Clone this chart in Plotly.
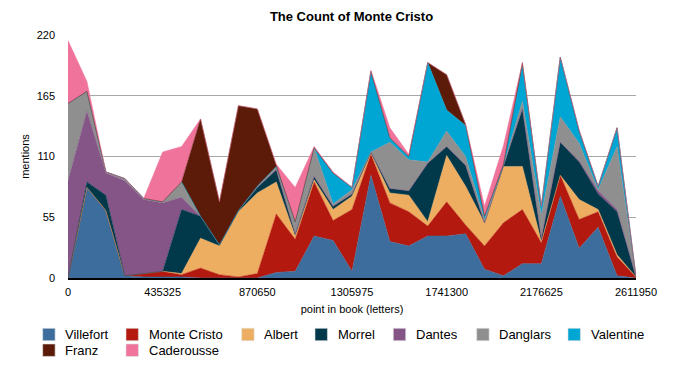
import plotly.graph_objects as go

# ---------------- data ----------------
positions = [0, 87065, 174130, 261195, 348260, 435325, 522390, 609455, 696520,
             783585, 870650, 957715, 1044780, 1131845, 1218910, 1305975, 1393040,
             1480105, 1567170, 1654235, 1741300, 1828365, 1915430, 2002495,
             2089560, 2176625, 2263690, 2350755, 2437820, 2524885, 2611950]

villefort = [0, 82, 61, 2, 1, 1, 1, 0, 0, 0, 0, 5, 6, 38, 34, 6, 93, 33, 29, 38, 38,
             40, 8, 2, 13, 13, 74, 27, 46, 2, 0]
monte_cristo = [0, 0, 0, 0, 3, 5, 2, 9, 3, 1, 4, 53, 29, 49, 18, 56, 19, 35, 31, 9, 31,
                8, 21, 48, 49, 19, 19, 26, 14, 17, 1]
albert = [0, 0, 0, 0, 0, 0, 1, 27, 26, 59, 73, 29, 3, 2, 10, 12, 1, 9, 15, 4, 42,
          35, 21, 51, 39, 1, 0, 18, 2, 2, 0]
morrel = [0, 5, 14, 0, 0, 0, 58, 20, 1, 1, 5, 11, 2, 3, 3, 2, 1, 4, 4, 53, 8,
          19, 0, 0, 52, 3, 30, 34, 14, 39, 0]
dantes = [88, 64, 20, 86, 67, 62, 11, 0, 0, 0, 0, 0, 0, 0, 0, 0, 0, 0, 0, 0, 0,
          0, 0, 0, 0, 0, 0, 1, 3, 2, 0]
danglars = [70, 18, 1, 2, 1, 1, 14, 0, 0, 0, 1, 3, 11, 26, 2, 4, 0, 42, 28, 1, 14,
            8, 3, 1, 7, 21, 23, 16, 1, 57, 0]
valentine = [0, 0, 0, 0, 0, 0, 0, 0, 0, 0, 0, 0, 0, 0, 28, 2, 73, 4, 3, 90, 19,
             28, 3, 1, 32, 8, 54, 11, 3, 17, 0]
franz = [0, 0, 0, 0, 0, 0, 0, 88, 39, 95, 70, 0, 0, 0, 0, 0, 0, 0, 0, 0, 32,
         1, 0, 0, 3, 0, 0, 0, 0, 0, 0]
caderousse = [57, 9, 0, 0, 0, 45, 32, 0, 0, 0, 0, 2, 31, 1, 1, 0, 1, 9, 2, 0, 0,
              0, 9, 17, 0, 0, 0, 1, 0, 0, 0]

names = ["Villefort", "Monte Cristo", "Albert", "Morrel", "Dantes", "Danglars",
         "Valentine", "Franz", "Caderousse"]
series = [villefort, monte_cristo, albert, morrel, dantes, danglars,
          valentine, franz, caderousse]

x_tick_values = [0, 435325, 870650, 1305975, 1741300, 2176625, 2611950]
y_tick_values = [0, 55, 110, 165, 220]

# ---------------- styling ----------------
colors = ["#3C6D9D", "#B4190F", "#EEAE61", "#01384A", "#855588", "#8F8F8F",
          "#00A6D3", "#5B1B08", "#EF739B"]
FONT = "Liberation Sans, Arial, Helvetica, sans-serif"

W, H = 676, 374
ML, MR, MT, MB = 68, 40, 35, 96
PW, PH = W - ML - MR, H - MT - MB

fig = go.Figure()
for name, vals, col in zip(names, series, colors):
    fig.add_trace(go.Scatter(
        x=positions, y=vals, name=name, mode="lines",
        stackgroup="one", line=dict(width=0.5, color=col),
        fillcolor=col, showlegend=False, hoverinfo="x+y+name"))

# custom legend (squares + labels), laid out like the original
def px_x(p):
    return (p - ML) / PW

def px_y(p):
    return (H - MB - p) / PH

leg_left = [42.7, 126, 241.7, 315, 393.3, 476.7, 568, 42.7, 126]
leg_row = [334.5] * 7 + [350.2] * 2
sq = 12.4
shapes = []
annotations = []
for name, col, lx, ly in zip(names, colors, leg_left, leg_row):
    shapes.append(dict(type="rect", xref="paper", yref="paper",
                       x0=px_x(lx), x1=px_x(lx + sq),
                       y0=px_y(ly + sq / 2), y1=px_y(ly - sq / 2),
                       fillcolor=col, line=dict(width=0.6, color="#dddddd"),
                       layer="above"))
    annotations.append(dict(xref="paper", yref="paper", x=px_x(lx + 20.6),
                            y=px_y(ly), xanchor="left", yanchor="middle",
                            text=name, showarrow=False,
                            font=dict(family=FONT, size=13, color="#000")))

fig.update_layout(
    width=W, height=H,
    margin=dict(l=ML, r=MR, t=MT, b=MB, pad=0),
    paper_bgcolor="white", plot_bgcolor="white",
    font=dict(family=FONT, size=11, color="#000"),
    title=dict(text="<b>The Count of Monte Cristo</b>", x=px_x(351.5),
               xref="paper", xanchor="center", y=1 - 16.7 / H, yref="container",
               yanchor="middle", font=dict(family=FONT, size=13, color="#000")),
    xaxis=dict(range=[0, 2611950], tickvals=x_tick_values,
               ticktext=[str(v) for v in x_tick_values],
               showgrid=False, zeroline=False, showline=True,
               linecolor="#000", linewidth=1.6, ticks="",
               ticklabelstandoff=3,
               tickfont=dict(family=FONT, size=11, color="#000"),
               title=dict(text="point in book (letters)", standoff=8,
                          font=dict(family=FONT, size=11, color="#000"))),
    yaxis=dict(range=[0, 220], tickvals=y_tick_values,
               showgrid=True, gridcolor="#A8A8A8", gridwidth=1,
               zeroline=False, showline=False, ticks="",
               ticklabelstandoff=12,
               tickfont=dict(family=FONT, size=11, color="#000"),
               title=dict(text="mentions", standoff=4,
                          font=dict(family=FONT, size=11, color="#000"))),
    shapes=shapes, annotations=annotations,
    showlegend=False,
)

fig.write_html("out.html",
               config={"displayModeBar": False},
               post_script="document.body.style.margin='0';"
                           "document.body.style.padding='0';"
                           "document.body.style.overflow='hidden';")
